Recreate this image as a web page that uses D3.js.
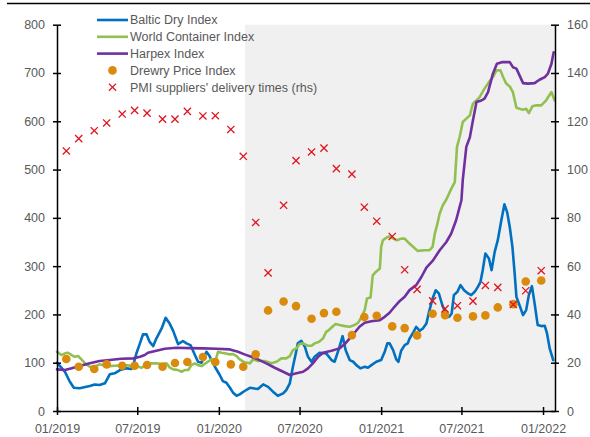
<!DOCTYPE html>
<html>
<head>
<meta charset="utf-8">
<script src="https://cdn.jsdelivr.net/npm/d3@7/dist/d3.min.js"></script>
<style>
  html, body { margin: 0; padding: 0; background: #ffffff; }
  svg { display: block; }
  text { font-family: "Liberation Sans", Arial, sans-serif; }
</style>
</head>
<body>
<div id="chart"></div>
<script>
// ---------------- DATA ----------------
const seriesNames = ["Baltic Dry Index", "World Container Index", "Harpex Index", "Drewry Price Index", "PMI suppliers' delivery times (rhs)"];

const balticDry = [
["2019-01-01",100],["2019-01-19",81],["2019-01-30",60.6],["2019-02-08",48],["2019-02-21",47],["2019-03-16",51.7],["2019-03-27",55],["2019-04-07",53.8],["2019-04-19",57.3],["2019-04-30",76],["2019-05-11",78],["2019-05-23",84.8],["2019-06-07",88.3],["2019-06-18",86.9],["2019-06-22",95],["2019-06-29",119],["2019-07-07",140],["2019-07-14",159],["2019-07-22",158.6],["2019-07-29",143],["2019-08-06",134.5],["2019-08-13",150],["2019-08-25",171],["2019-09-03",193],["2019-09-12",181],["2019-09-20",166],["2019-10-01",138.6],["2019-10-12",145],["2019-10-20",140],["2019-10-29",136.5],["2019-11-08",115.8],["2019-11-15",102],["2019-11-23",100],["2019-11-28",111],["2019-12-04",122.7],["2019-12-11",113.8],["2019-12-23",91.7],
["2020-01-03",74.5],["2020-01-10",62],["2020-01-18",58.6],["2020-01-26",48],["2020-02-02",38],["2020-02-10",31.7],["2020-02-17",34.5],["2020-02-28",41.4],["2020-03-11",48],["2020-03-18",47],["2020-03-29",45.5],["2020-04-10",55],["2020-04-21",50],["2020-05-02",40],["2020-05-13",31.7],["2020-05-25",36.6],["2020-06-01",43.4],["2020-06-09",57.3],["2020-06-16",91.7],["2020-06-24",126],["2020-06-27",140],["2020-07-05",145.4],["2020-07-13",133],["2020-07-20",112.3],["2020-07-28",102],["2020-08-04",112.3],["2020-08-15",120.6],["2020-08-30",119.4],["2020-09-11",105.5],["2020-09-18",102],["2020-09-28",129.7],["2020-10-06",155],["2020-10-13",126],["2020-10-22",105.5],["2020-10-30",102],["2020-11-06",95],["2020-11-15",88.3],["2020-11-25",91.7],["2020-12-02",89.6],["2020-12-10",95],["2020-12-21",102],
["2021-01-01",105.5],["2021-01-09",122.7],["2021-01-15",140],["2021-01-20",140],["2021-01-28",126],["2021-02-04",107],["2021-02-09",102],["2021-02-15",124.7],["2021-02-23",136.5],["2021-03-02",140],["2021-03-06",150],["2021-03-14",162],["2021-03-21",174.4],["2021-03-29",166],["2021-04-05",171],["2021-04-13",181],["2021-04-19",205.4],["2021-04-27",233],["2021-05-04",250],["2021-05-11",243.5],["2021-05-19",219],["2021-05-26",203.4],["2021-06-03",195],["2021-06-09",202],["2021-06-14",240],["2021-06-22",246.8],["2021-06-29",260.6],["2021-07-07",250],["2021-07-16",243.5],["2021-07-23",240],["2021-07-31",246.8],["2021-08-07",257],["2021-08-13",267.5],["2021-08-18",291.7],["2021-08-24",326],["2021-09-01",315.9],["2021-09-07",291.7],["2021-09-14",329.5],["2021-09-21",353.7],["2021-09-29",395],["2021-10-06",428],["2021-10-12",412],["2021-10-18",381],["2021-10-24",340],["2021-10-29",284.8],["2021-11-02",236.4],["2021-11-09",219],["2021-11-17",198.6],["2021-11-24",209],["2021-11-30",240],["2021-12-07",258.6],["2021-12-13",222.8],["2021-12-20",177.9],["2021-12-28",175.8],["2022-01-05",176.5],["2022-01-10",160.7],["2022-01-16",129.7],["2022-01-24",105.5]
];

const worldContainer = [
["2019-01-01",122.7],["2019-01-11",115.8],["2019-01-19",119.4],["2019-01-26",120.6],["2019-02-03",115.8],["2019-02-10",112.3],["2019-02-18",113.8],["2019-02-25",107],["2019-03-07",97.2],["2019-03-16",91.7],["2019-03-27",91.7],["2019-04-07",96.6],["2019-04-19",93.7],["2019-04-30",93],["2019-05-11",93.7],["2019-05-26",94.5],["2019-06-10",94.5],["2019-06-22",93],["2019-07-03",91.7],["2019-07-11",89.6],["2019-07-22",96.6],["2019-08-02",98.7],["2019-08-13",98.7],["2019-08-25",97.2],["2019-09-05",98.7],["2019-09-12",90.3],["2019-09-20",86.2],["2019-10-01",84.8],["2019-10-09",81.3],["2019-10-16",84.8],["2019-10-24",84.8],["2019-10-31",95],["2019-11-08",98.7],["2019-11-15",95],["2019-11-23",93],["2019-12-04",100],["2019-12-15",107],["2019-12-25",105.5],["2019-12-30",122.7],
["2020-01-07",120.6],["2020-01-14",119.4],["2020-01-26",117.3],["2020-02-02",118],["2020-02-10",113.8],["2020-02-17",107],["2020-02-28",100.7],["2020-03-11",98.7],["2020-03-18",107],["2020-03-29",103.4],["2020-04-13",103.4],["2020-04-29",98.7],["2020-05-10",102],["2020-05-21",109],["2020-06-01",109],["2020-06-09",113.8],["2020-06-16",126],["2020-06-24",129.7],["2020-07-01",138.6],["2020-07-09",140],["2020-07-20",135],["2020-07-28",135],["2020-08-04",140],["2020-08-14",143.4],["2020-08-23",150.4],["2020-08-30",164],["2020-09-05",167.6],["2020-09-13",174.4],["2020-09-20",180],["2020-09-29",177.9],["2020-10-11",175.8],["2020-10-22",174.4],["2020-11-02",177.9],["2020-11-10",182.7],["2020-11-17",193.8],["2020-11-25",209],["2020-11-30",233],["2020-12-08",235],["2020-12-13",281],["2020-12-20",288],["2020-12-29",295],
["2021-01-01",340],["2021-01-05",353.7],["2021-01-13",359],["2021-01-20",362],["2021-01-28",357],["2021-02-06",353.7],["2021-02-15",357],["2021-02-23",357],["2021-03-02",350],["2021-03-14",340],["2021-03-24",331.6],["2021-04-09",333],["2021-04-20",333],["2021-04-27",340],["2021-05-02",367.6],["2021-05-07",384.8],["2021-05-13",409],["2021-05-20",426],["2021-05-28",438],["2021-06-08",460],["2021-06-16",474],["2021-06-21",547],["2021-06-27",567.4],["2021-07-04",598.5],["2021-07-12",605.5],["2021-07-20",612.3],["2021-07-27",636.5],["2021-08-04",643.4],["2021-08-11",650],["2021-08-22",667.6],["2021-09-01",681],["2021-09-10",691.6],["2021-09-18",705.4],["2021-09-27",705.4],["2021-10-03",691.6],["2021-10-10",678],["2021-10-18",672],["2021-10-25",660.5],["2021-11-02",628],["2021-11-09",626],["2021-11-17",624],["2021-11-24",626],["2021-11-30",617],["2021-12-08",631],["2021-12-17",633],["2021-12-28",633],["2022-01-08",643.4],["2022-01-20",660.5],["2022-01-27",643.4]
];

const harpex = [
["2019-01-01",86.2],["2019-01-19",84.8],["2019-02-03",88.3],["2019-02-21",93],["2019-03-16",98.7],["2019-04-07",103.4],["2019-04-30",105.5],["2019-05-26",108.2],["2019-06-22",109],["2019-07-07",112.3],["2019-07-18",115.8],["2019-07-25",120.6],["2019-08-13",124.7],["2019-09-01",128.9],["2019-09-27",131],["2019-10-27",130.3],["2019-11-26",129.7],["2019-12-27",128.9],
["2020-01-26",127.6],["2020-02-13",122.7],["2020-02-28",117.3],["2020-03-14",112.3],["2020-03-29",107],["2020-04-17",98.7],["2020-05-06",89.6],["2020-05-25",81.3],["2020-06-09",74.5],["2020-06-24",78],["2020-07-09",81.3],["2020-07-20",88.3],["2020-07-31",98.7],["2020-08-12",112.3],["2020-08-23",120.6],["2020-09-11",124.7],["2020-09-29",129.7],["2020-10-11",138.6],["2020-10-22",150.4],["2020-11-02",162],["2020-11-13",174.4],["2020-11-25",182.7],["2020-12-10",186],["2020-12-29",188.2],
["2021-01-09",195],["2021-01-20",203.4],["2021-01-31",215.8],["2021-02-12",228],["2021-02-23",236.4],["2021-03-06",250.3],["2021-03-21",260.6],["2021-04-02",278],["2021-04-13",297],["2021-04-28",312],["2021-05-13",333],["2021-05-28",350],["2021-06-08",367.6],["2021-06-19",395],["2021-06-27",422.6],["2021-07-01",436.5],["2021-07-04",478],["2021-07-12",547],["2021-07-20",567],["2021-07-27",602],["2021-08-04",640],["2021-08-15",643],["2021-08-22",647],["2021-08-30",660.5],["2021-09-10",698.6],["2021-09-19",719],["2021-10-02",722.6],["2021-10-18",722.6],["2021-10-25",712],["2021-11-02",709],["2021-11-09",695],["2021-11-17",679],["2021-11-28",678],["2021-12-13",679],["2021-12-24",686],["2022-01-05",691.6],["2022-01-12",698.6],["2022-01-20",719],["2022-01-25",743]
];

// monthly observations (Drewry & PMI share dates)
const monthlyDates = [
"2019-01-22","2019-02-19","2019-03-26","2019-04-23","2019-05-28","2019-06-25","2019-07-23","2019-08-27","2019-09-24","2019-10-22","2019-11-26","2019-12-24",
"2020-01-28","2020-02-25","2020-03-24","2020-04-21","2020-05-26","2020-06-23","2020-07-28","2020-08-25","2020-09-22","2020-10-27","2020-11-24","2020-12-22",
"2021-01-26","2021-02-23","2021-03-23","2021-04-27","2021-05-25","2021-06-22","2021-07-27","2021-08-24","2021-09-21","2021-10-26","2021-11-23","2021-12-28"];
const drewryValues = [
107.6,91.7,86.9,96.6,93.8,93.8,95.2,91.7,99.3,101.4,111.7,101.4,
96.6,91.7,117.3,208.3,226.9,217.2,191,202.7,205.4,157.2,194.5,197.2,
175.2,171.7,156.6,201.3,198.6,193,195.9,198,214.5,221.3,268.3,270.4];
const pmiValues = [
107.7,112.8,116.1,119.3,123.0,124.5,123.4,120.9,120.9,124.1,122.2,122.3,
116.6,105.5,78.1,57.2,85.2,103.7,107.3,108.9,100.4,98.1,84.4,78.6,
72.3,58.5,50.4,45.6,42.3,43.6,45.5,52.0,51.2,44.1,49.8,58.1];

const xDomain = ["2019-01-01", "2022-01-28"];
const xTickDates = ["2019-01-01","2019-07-01","2020-01-01","2020-07-01","2021-01-01","2021-07-01","2022-01-01"];
const leftTicks = [0,100,200,300,400,500,600,700,800];
const rightTicks = [0,20,40,60,80,100,120,140,160];
const shadeStart = "2020-02-29";

// ---------------- CHART ----------------
const W = 590, H = 437;
const margin = {left: 57, right: 35, top: 24.7, bottom: 26};
const parse = d3.timeParse("%Y-%m-%d");
const fmt = d3.timeFormat("%m/%Y");

const svg = d3.select("#chart").append("svg").attr("width", W).attr("height", H);

const x = d3.scaleTime().domain(xDomain.map(parse)).range([margin.left, W - margin.right]);
const yL = d3.scaleLinear().domain([0, 800]).range([H - margin.bottom, margin.top]);
const yR = d3.scaleLinear().domain([0, 160]).range([H - margin.bottom, margin.top]);

const colors = {bdi: "#0070C0", wci: "#92C050", harpex: "#7030A0", drewry: "#DA8A0C", pmi: "#E0141E"};
const textColor = "#595959";
const fontSize = 12.5;

// top border line
svg.append("line").attr("x1", 7).attr("x2", W).attr("y1", 3.5).attr("y2", 3.5)
  .attr("stroke", "#000").attr("stroke-width", 1.3);

// shaded period
svg.append("rect")
  .attr("x", x(parse(shadeStart)))
  .attr("y", yL(800))
  .attr("width", x.range()[1] - x(parse(shadeStart)))
  .attr("height", yL(0) - yL(800))
  .attr("fill", "#F0F0F0");

// lines
const line = d3.line().x(d => x(parse(d[0]))).y(d => yL(d[1]));
[[balticDry, colors.bdi], [worldContainer, colors.wci], [harpex, colors.harpex]].forEach(([data, c]) => {
  svg.append("path").datum(data).attr("d", line)
    .attr("fill", "none").attr("stroke", c).attr("stroke-width", 2.6)
    .attr("stroke-linejoin", "round").attr("stroke-linecap", "round");
});

// Drewry dots
svg.append("g").selectAll("circle").data(monthlyDates.map((d, i) => [d, drewryValues[i]])).join("circle")
  .attr("cx", d => x(parse(d[0]))).attr("cy", d => yL(d[1])).attr("r", 4.3)
  .attr("fill", colors.drewry);

// PMI crosses
const cs = 3.6;
const pmiG = svg.append("g").selectAll("path").data(monthlyDates.map((d, i) => [d, pmiValues[i]])).join("path")
  .attr("d", d => {
    const cx = x(parse(d[0])), cy = yR(d[1]);
    return `M${cx-cs},${cy-cs}L${cx+cs},${cy+cs}M${cx-cs},${cy+cs}L${cx+cs},${cy-cs}`;
  })
  .attr("stroke", colors.pmi).attr("stroke-width", 1.3).attr("fill", "none");

// axes
function styleAxis(g) {
  g.selectAll(".domain").attr("stroke", "#000").attr("stroke-width", 1.5);
  g.selectAll(".tick line").attr("stroke", "#000").attr("stroke-width", 1.5);
  g.selectAll(".tick text").attr("fill", textColor).attr("font-size", fontSize)
    .attr("font-family", "'Liberation Sans', Arial, sans-serif");
}

const gx = svg.append("g").attr("transform", `translate(0,${yL(0)})`)
  .call(d3.axisBottom(x).tickValues(xTickDates.map(parse)).tickFormat(fmt).tickSizeOuter(0).tickSizeInner(4).tickPadding(9));
styleAxis(gx);
gx.selectAll(".tick line").attr("y1", -4).attr("y2", 4);

const gl = svg.append("g").attr("transform", `translate(${margin.left},0)`)
  .call(d3.axisLeft(yL).tickValues(leftTicks).tickSizeOuter(0).tickSizeInner(4).tickPadding(8));
styleAxis(gl);
gl.selectAll(".tick line").attr("x1", -4).attr("x2", 4);

const gr = svg.append("g").attr("transform", `translate(${W - margin.right},0)`)
  .call(d3.axisRight(yR).tickValues(rightTicks).tickSizeOuter(0).tickSizeInner(4).tickPadding(8));
styleAxis(gr);
gr.selectAll(".tick line").attr("x1", -4).attr("x2", 4);

// legend
const legend = svg.append("g");
const lx1 = 97, lx2 = 128, tx = 130, ly0 = 20, lstep = 16.8;
seriesNames.forEach((name, i) => {
  const yy = ly0 + i * lstep;
  if (i < 3) {
    const c = [colors.bdi, colors.wci, colors.harpex][i];
    legend.append("line").attr("x1", lx1).attr("x2", lx2).attr("y1", yy).attr("y2", yy)
      .attr("stroke", c).attr("stroke-width", 2.6);
  } else if (i === 3) {
    legend.append("circle").attr("cx", (lx1 + lx2) / 2).attr("cy", yy).attr("r", 4.3).attr("fill", colors.drewry);
  } else {
    const cx = (lx1 + lx2) / 2;
    legend.append("path").attr("d", `M${cx-cs},${yy-cs}L${cx+cs},${yy+cs}M${cx-cs},${yy+cs}L${cx+cs},${yy-cs}`)
      .attr("stroke", colors.pmi).attr("stroke-width", 1.3);
  }
  legend.append("text").attr("x", tx).attr("y", yy).attr("dy", "0.35em")
    .attr("fill", textColor).attr("font-size", fontSize).text(name);
});
</script>
</body>
</html>
